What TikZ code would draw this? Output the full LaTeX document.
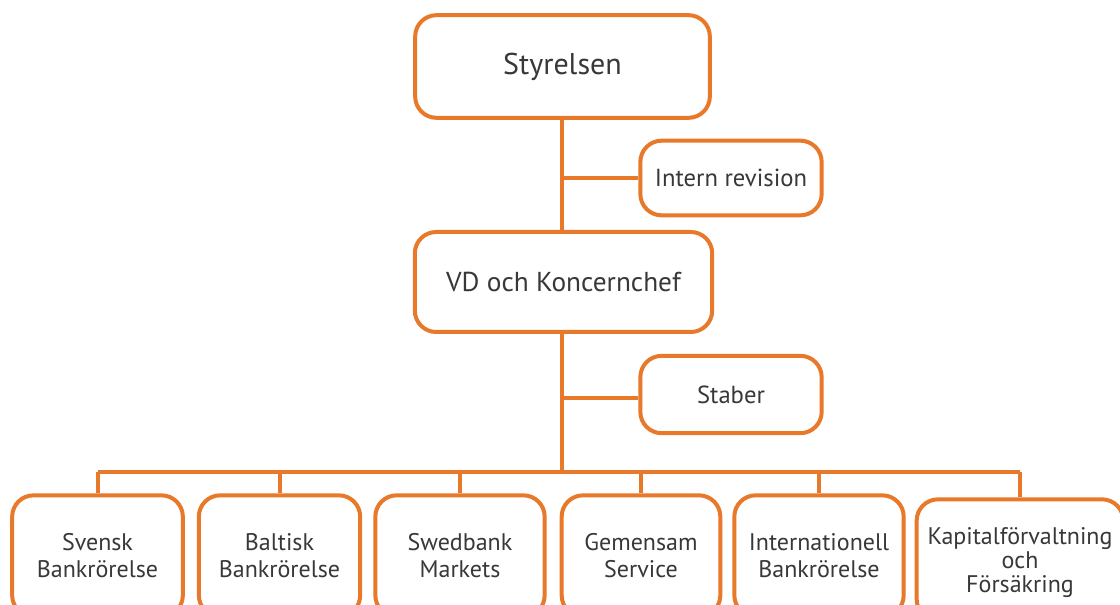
\documentclass[tikz,border=0pt]{standalone}
\usepackage{fontspec}
\setmainfont{PT Sans}
\definecolor{swedorange}{HTML}{E8782A}
\definecolor{txtgray}{HTML}{383838}
\begin{document}
\begin{tikzpicture}[x=0.75pt,y=-0.75pt,
  orgbox/.style={draw=swedorange, line width=3pt, rounded corners=16pt,
    fill=white, text=txtgray, align=center, inner sep=0pt},
  link/.style={draw=swedorange, line width=3pt}]
\useasboundingbox (0,0) rectangle (1120,605);
\clip (0,0) rectangle (1120,605);

% top levels
\node[orgbox, minimum width=221pt, minimum height=77pt, font=\fontsize{22.5}{26}\selectfont]
  (sty) at (562.5,66.5) {Styrelsen};
\node[orgbox, minimum width=136pt, minimum height=56pt, font=\fontsize{18.5}{22}\selectfont]
  (ir) at (731,178) {Intern revision};
\node[orgbox, minimum width=223pt, minimum height=75pt, font=\fontsize{20.5}{24}\selectfont]
  (vd) at (563.5,282) {VD och Koncernchef};
\node[orgbox, minimum width=136pt, minimum height=58pt, font=\fontsize{18.5}{22}\selectfont]
  (st) at (731,394.5) {Staber};

% business areas
\tikzset{unit/.style={orgbox, minimum width=#1, minimum height=91pt,
  font=\fontsize{18}{20.3}\selectfont}}
\node[unit=128pt] (u1) at (97.5,556) {Svensk\\Bankrörelse};
\node[unit=121pt] (u2) at (279.5,556) {Baltisk\\Bankrörelse};
\node[unit=127pt] (u3) at (460,556) {Swedbank\\Markets};
\node[unit=119pt] (u4) at (641,556) {Gemensam\\Service};
\node[unit=127pt] (u5) at (819,556) {Internationell\\Bankrörelse};
\node[unit=155pt, font=\fontsize{18}{18}\selectfont, text depth=0pt] (u6) at (1020,560)
  {Kapitalförvaltning\\och\\Försäkring};

% spine and branches
\coordinate (bus) at (562,472);
\coordinate (jir) at (562,178);
\coordinate (jst) at (562,398);
\draw[link] (sty.south -| jir) -- (vd.north -| jir);
\draw[link] (vd.south -| jir) -- (bus);
\draw[link] (jir) -- (ir.west);
\draw[link] (jst) -- (st.west |- jst);
\draw[link] (u1.north |- bus) -- (u6.north |- bus);
\foreach \u in {u1,u2,u3,u4,u5,u6}
  \draw[link] (\u.north |- bus) -- (\u.north);
\end{tikzpicture}
\end{document}
